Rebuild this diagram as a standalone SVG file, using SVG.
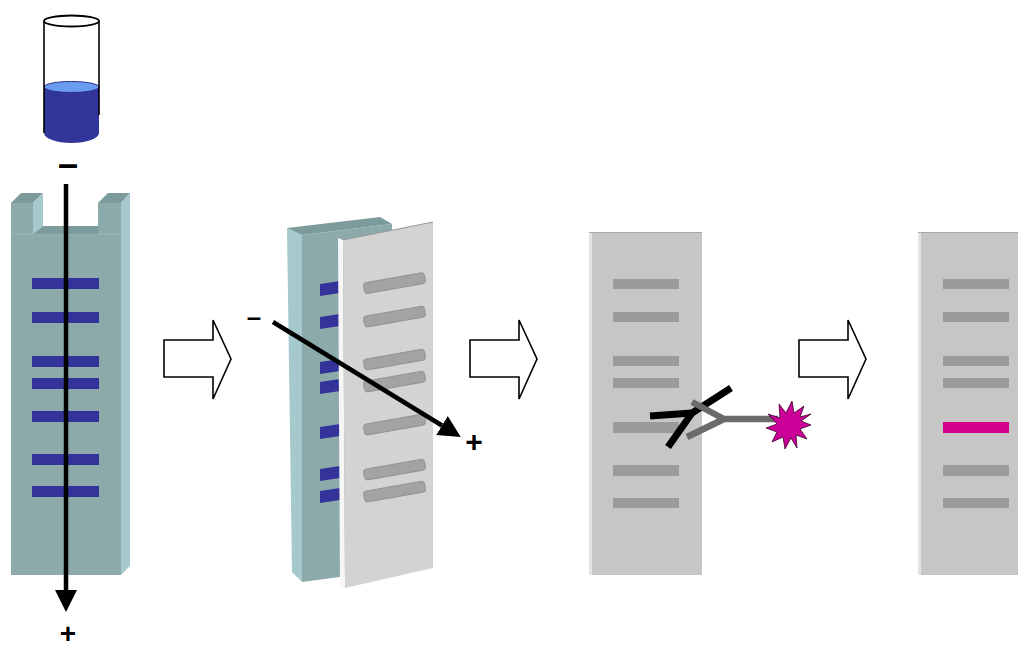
<svg xmlns="http://www.w3.org/2000/svg" width="1018" height="650" viewBox="0 0 1018 650">
  <style>
    .sign { font-family: "Liberation Sans", Arial, sans-serif; font-weight: bold; fill: #000; text-anchor: middle; }
    .step { fill: #fff; stroke: #000; stroke-width: 1.6; stroke-linejoin: miter; }
    .gelFront { fill: #8daaab; }
    .gelSide { fill: #a5c9cc; }
    .gelTop { fill: #7e9b9c; }
    .blueBand { fill: #333399; }
    .memBand { fill: #a3a3a3; stroke: #8c8c8c; stroke-width: 0.8; }
    .sheet { fill: #c6c6c6; }
    .sheetEdge { fill: #e4e4e4; }
    .greyBand { fill: #9b9b9b; }
    .field { stroke: #000; stroke-width: 4.5; fill: none; }
  </style>
  <defs>
    <marker id="head" markerUnits="userSpaceOnUse" markerWidth="24" markerHeight="24" refX="0" refY="11" orient="auto">
      <path d="M0,0 L22,11 L0,22 Z" fill="#000"/>
    </marker>
    <path id="stepArrow" d="M164,340 H213 V320 L231,359 L213,399 V377 H164 Z"/>
  </defs>

  <!-- sample tube -->
  <g id="tube">
    <path d="M44,87 H99 V133 A27.5,10 0 0 1 44,133 Z" fill="#32359a"/>
    <ellipse cx="71.5" cy="87" rx="27.5" ry="5.5" fill="#6a9cf2" stroke="#2c2f8a" stroke-width="1"/>
    <line x1="44" y1="21" x2="44" y2="133" stroke="#000" stroke-width="1.6"/>
    <line x1="99" y1="21" x2="99" y2="115" stroke="#000" stroke-width="1.6"/>
    <ellipse cx="71.5" cy="21" rx="27.5" ry="5.5" fill="none" stroke="#000" stroke-width="1.8"/>
  </g>

  <!-- gel with wells and separated bands -->
  <g id="gel">
    <path class="gelFront" d="M11,203 H33 V234 H98 V203 H121 V575 H11 Z"/>
    <line x1="11" y1="234" x2="121" y2="234" stroke="#9bb8b8" stroke-width="1"/>
    <polygon class="gelTop" points="11,203 21,193 43,193 33,203"/>
    <polygon class="gelSide" points="33,203 43,193 43,226 33,234"/>
    <polygon class="gelTop" points="33,234 43,226 98,226 98,234"/>
    <polygon class="gelTop" points="98,203 108,193 130,193 121,203"/>
    <polygon class="gelSide" points="121,203 130,193 130,566 121,575"/>
    <rect class="blueBand" x="32" y="278" width="67" height="11"/>
    <rect class="blueBand" x="32" y="312" width="67" height="11"/>
    <rect class="blueBand" x="32" y="356" width="67" height="11"/>
    <rect class="blueBand" x="32" y="378" width="67" height="11"/>
    <rect class="blueBand" x="32" y="411" width="67" height="11"/>
    <rect class="blueBand" x="32" y="454" width="67" height="11"/>
    <rect class="blueBand" x="32" y="486" width="67" height="11"/>
  </g>

  <!-- transfer: gel behind membrane -->
  <g id="transfer">
    <polygon class="gelSide" points="287,228 302,235 302,582 292,572"/>
    <polygon class="gelTop" points="287,228 380,217 392,224 302,235"/>
    <polygon class="gelFront" points="302,235 392,224 392,570 302,582"/>
    <g class="blueBand">
      <polygon points="320,284 340,281 340,293 320,296"/>
      <polygon points="320,317 340,314 340,326 320,329"/>
      <polygon points="320,362 340,359 340,371 320,374"/>
      <polygon points="320,382 340,379 340,391 320,394"/>
      <polygon points="320,427 340,424 340,436 320,439"/>
      <polygon points="320,469 340,466 340,478 320,481"/>
      <polygon points="320,491 340,488 340,500 320,503"/>
    </g>
    <polygon points="338,238 343,240 345,588 340,586" fill="#f6f6f6"/>
    <polygon points="343,240 433,222 433,568 345,588" fill="#d3d3d3"/>
    <line x1="343" y1="240" x2="433" y2="222" stroke="#9a9a9a" stroke-width="1.2"/>
    <g class="memBand">
      <rect x="364" y="283" width="62" height="11" rx="3" transform="rotate(-10 364 288.5)"/>
      <rect x="364" y="316.5" width="62" height="11" rx="3" transform="rotate(-10 364 322)"/>
      <rect x="364" y="359.5" width="62" height="11" rx="3" transform="rotate(-10 364 365)"/>
      <rect x="364" y="381.5" width="62" height="11" rx="3" transform="rotate(-10 364 387)"/>
      <rect x="364" y="424.5" width="62" height="11" rx="3" transform="rotate(-10 364 430)"/>
      <rect x="364" y="469.5" width="62" height="11" rx="3" transform="rotate(-10 364 475)"/>
      <rect x="364" y="491.5" width="62" height="11" rx="3" transform="rotate(-10 364 497)"/>
    </g>
  </g>

  <!-- membrane probed with antibodies -->
  <g id="probe">
    <rect class="sheet" x="589" y="232" width="113" height="343"/>
    <rect class="sheetEdge" x="589" y="232" width="3" height="343"/>
    <line x1="589" y1="232.5" x2="702" y2="232.5" stroke="#a8a8a8" stroke-width="1.2"/>
    <g class="greyBand">
      <rect x="613" y="279" width="66" height="10"/>
      <rect x="613" y="312" width="66" height="10"/>
      <rect x="613" y="356" width="66" height="10"/>
      <rect x="613" y="378" width="66" height="10"/>
      <rect x="613" y="422" width="66" height="11"/>
      <rect x="613" y="465" width="66" height="11"/>
      <rect x="613" y="498" width="66" height="10"/>
    </g>
    <!-- primary antibody -->
    <g stroke="#000" stroke-width="7" fill="none" stroke-linejoin="miter">
      <line x1="650" y1="416" x2="692" y2="413"/>
      <polyline points="668,447 692,413 731,388"/>
    </g>
    <!-- secondary antibody with label -->
    <g stroke="#6b6b6b" stroke-width="6.5" fill="none">
      <line x1="725" y1="419" x2="778" y2="419"/>
      <polyline points="692,402 724,419 687,437"/>
    </g>
    <polygon fill="#cc0099" stroke="#3a0028" stroke-width="0.8"
      points="811,425 800,429 807,439 796,435 797,448 791,438 785,449 783,437 772,442 777,432 766,428 777,424 768,414 780,418 779,404 786,413 792,401 794,413 804,406 800,417 811,414 801,421"/>
  </g>

  <!-- detected band -->
  <g id="result">
    <rect class="sheet" x="918" y="232" width="110" height="343"/>
    <rect class="sheetEdge" x="918" y="232" width="3" height="343"/>
    <line x1="918" y1="232.5" x2="1018" y2="232.5" stroke="#a8a8a8" stroke-width="1.2"/>
    <g class="greyBand">
      <rect x="943" y="279" width="66" height="10"/>
      <rect x="943" y="312" width="66" height="10"/>
      <rect x="943" y="356" width="66" height="10"/>
      <rect x="943" y="378" width="66" height="10"/>
      <rect x="943" y="465" width="66" height="11"/>
      <rect x="943" y="498" width="66" height="10"/>
    </g>
    <rect x="943" y="422" width="66" height="11" fill="#d4008c"/>
  </g>

  <!-- step arrows and current direction -->
  <g id="connectors">
    <use href="#stepArrow" class="step"/>
    <use href="#stepArrow" class="step" transform="translate(306 0)"/>
    <use href="#stepArrow" class="step" transform="translate(635 0)"/>
    <line class="field" x1="66" y1="184" x2="66" y2="590" marker-end="url(#head)"/>
    <line class="field" x1="273" y1="322" x2="442" y2="425.5" marker-end="url(#head)"/>
  </g>

  <g id="labels">
    <text class="sign" x="68" y="176" font-size="36">–</text>
    <text class="sign" x="68" y="643" font-size="28">+</text>
    <text class="sign" x="254" y="326" font-size="26">–</text>
    <text class="sign" x="474" y="452" font-size="30">+</text>
  </g>
</svg>
